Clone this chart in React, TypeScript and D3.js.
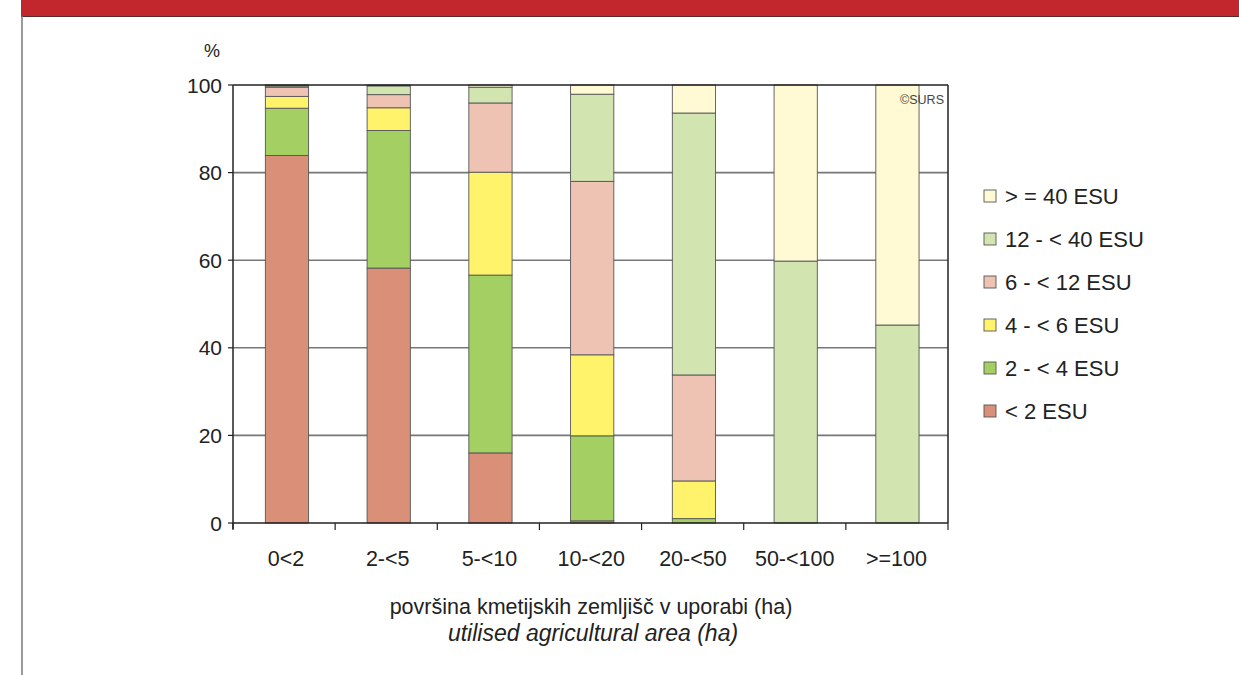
import React from "react";
import * as d3 from "d3";

const categories = ["0<2", "2-<5", "5-<10", "10-<20", "20-<50", "50-<100", ">=100"];
const seriesNames = ["< 2 ESU", "2 - < 4 ESU", "4 - < 6 ESU", "6 - < 12 ESU", "12 - < 40 ESU", "> = 40 ESU"];
const seriesColors = ["#DA8F78", "#A4CF63", "#FFF36C", "#EEC3B3", "#D2E5B1", "#FFF9D4"];
// values per series, one entry per category
const lt2 = [83.9, 58.2, 16.0, 0.5, 0.0, 0.0, 0.0];
const esu2to4 = [10.8, 31.4, 40.6, 19.4, 1.0, 0.0, 0.0];
const esu4to6 = [2.7, 5.2, 23.5, 18.5, 8.6, 0.0, 0.0];
const esu6to12 = [2.1, 3.0, 15.8, 39.6, 24.2, 0.0, 0.0];
const esu12to40 = [0.3, 2.0, 3.6, 19.9, 59.8, 59.8, 45.2];
const ge40 = [0.2, 0.2, 0.5, 2.1, 6.4, 40.2, 54.8];
const yTicks = [0, 20, 40, 60, 80, 100];

const seriesValues = [lt2, esu2to4, esu4to6, esu6to12, esu12to40, ge40];

export default function App() {
  const W = 1239, H = 675;
  const left = 233, right = 948, top = 85, bottom = 523;
  const x = d3.scaleBand<string>().domain(categories).range([238.9, 945.5]).paddingInner(0.575).paddingOuter(0.26);
  const y = d3.scaleLinear().domain([0, 100]).range([bottom, top]);

  const table = categories.map((c, i) => {
    const o: any = { cat: c };
    seriesNames.forEach((s, j) => (o[s] = seriesValues[j][i]));
    return o;
  });
  const stacked = d3.stack<any>().keys(seriesNames)(table);

  const font = "'Liberation Sans', Arial, Helvetica, sans-serif";
  const tickPos = d3.range(categories.length + 1).map((i) => left + (i * (right - left)) / categories.length);

  return (
    <div style={{ position: "absolute", left: 0, top: 0 }}>
      <svg width={W} height={H} style={{ display: "block", background: "#fff" }} fontFamily={font}>
        <rect x={21} y={0} width={W - 21} height={16} fill="#C1272D" />
        <line x1={21} x2={W} y1={16.5} y2={16.5} stroke="#5a2a2a" strokeWidth={1.2} />
        <line x1={22} x2={22} y1={16} y2={H} stroke="#777" strokeWidth={1.5} />

        {/* gridlines */}
        {yTicks.filter((t) => t > 0 && t < 100).map((t) => (
          <line key={t} x1={left} x2={right} y1={y(t)} y2={y(t)} stroke="#777" strokeWidth={1.6} />
        ))}

        {/* bars */}
        {stacked.map((layer, j) => (
          <g key={layer.key} fill={seriesColors[j]}>
            {layer.map((d, i) => {
              const h = y(d[0]) - y(d[1]);
              if (h <= 0) return null;
              return (
                <rect key={i} x={x(categories[i])} y={y(d[1])} width={x.bandwidth()} height={h}
                  stroke="#555" strokeWidth={0.9} />
              );
            })}
          </g>
        ))}

        {/* frame */}
        <line x1={left} x2={right} y1={top} y2={top} stroke="#222" strokeWidth={1.6} />
        <line x1={right} x2={right} y1={top} y2={bottom} stroke="#222" strokeWidth={1.5} />
        <line x1={left} x2={left} y1={top} y2={bottom + 6} stroke="#222" strokeWidth={1.5} />
        <line x1={left} x2={right} y1={bottom} y2={bottom} stroke="#222" strokeWidth={1.6} />

        {/* y ticks */}
        {yTicks.map((t) => (
          <g key={t}>
            <line x1={left - 5} x2={left} y1={y(t)} y2={y(t)} stroke="#222" strokeWidth={1.2} />
            <text x={222} y={y(t)} dy="0.36em" textAnchor="end" fontSize={21} fill="#222">{t}</text>
          </g>
        ))}
        <text x={212} y={57} textAnchor="middle" fontSize={18} fill="#222">%</text>

        {/* x ticks */}
        {tickPos.map((p, i) => (
          <line key={i} x1={p} x2={p} y1={bottom} y2={bottom + 7} stroke="#222" strokeWidth={1.2} />
        ))}
        {categories.map((c) => (
          <text key={c} x={(x(c) as number) + x.bandwidth() / 2 - 1} y={566} textAnchor="middle" fontSize={21.5} fill="#222">{c}</text>
        ))}

        <text x={591} y={614} textAnchor="middle" fontSize={21.5} fill="#222">površina kmetijskih zemljišč v uporabi (ha)</text>
        <text x={593} y={641} textAnchor="middle" fontSize={23} fontStyle="italic" fill="#222">utilised agricultural area (ha)</text>

        <text x={944} y={104} textAnchor="end" fontSize={12.5} fill="#444">©SURS</text>

        {/* legend */}
        {seriesNames.slice().reverse().map((s, k) => {
          const j = seriesNames.length - 1 - k;
          const cy = 196 + k * 43;
          return (
            <g key={s}>
              <rect x={984} y={cy - 6} width={12} height={12} fill={seriesColors[j]} stroke="#555" strokeWidth={0.9} />
              <text x={1005} y={cy} dy="0.36em" fontSize={22} fill="#222">{s}</text>
            </g>
          );
        })}
      </svg>
    </div>
  );
}
